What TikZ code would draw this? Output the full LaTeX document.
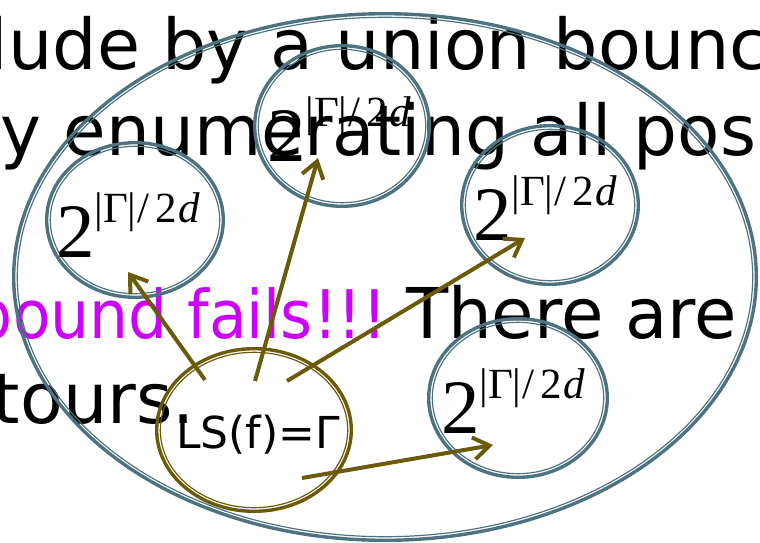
\documentclass[tikz,border=0pt]{standalone}
\usepackage{fontspec}
\setmainfont{DejaVu Sans}
\newfontfamily\tnr{Liberation Serif}
\usepackage{graphicx}
\usetikzlibrary{arrows.meta,shapes.geometric,calc}
\definecolor{steel}{HTML}{4E7380}
\definecolor{lsolive}{HTML}{6B5A08}
\definecolor{mag}{HTML}{CC00FF}
\newcommand\myring[5]{%
  \node[ringout, draw=#5, minimum width={(2*#3-3.4)*1pt}, minimum height={(2*#4-3.4)*1pt}] (#1) at #2 {};
  \node[ringin, draw=#5, minimum width={(2*#3-10.6)*1pt}, minimum height={(2*#4-10.6)*1pt}] (#1-in) at #2 {};
}
\newcommand\gamlbl{{\tnr\fontsize{77}{77}\selectfont 2\raisebox{35pt}{\fontsize{43}{43}\selectfont |Γ|\hspace{1pt}/\hspace{6pt}2\hspace{1pt}\textit{d}}}}
\begin{document}
\begin{tikzpicture}[x=1pt,y=-1pt,
  ringout/.style={ellipse, line width=3.4pt, inner sep=0pt, outer sep=0pt},
  ringin/.style={ellipse, line width=1.2pt, inner sep=0pt, outer sep=0pt},
  txt/.style={anchor=base west, inner sep=0pt, outer sep=0pt},
  lbl/.style={anchor=base west, inner sep=0pt, outer sep=0pt},
  arr/.style={draw=lsolive, line width=4pt, -{Straight Barb[length=16pt,width=22pt]}}]
\useasboundingbox (0,0) rectangle (760,543);
\clip (0,0) rectangle (760,543);
% slide text
\node[txt] (l1) at (-11,70) {\fontsize{70}{70}\selectfont lude by a union bounc};
\node[txt] (l2) at (1,155) {\resizebox{755pt}{\height}{\fontsize{70}{70}\selectfont y enumerating all pos}};
\node[txt, text=mag] (l3a) at (-26,338) {\resizebox{413pt}{\height}{\fontsize{67}{67}\selectfont bound fails!!!}};
\node[txt] (l3b) at (406,338) {\resizebox{331pt}{\height}{\fontsize{70}{70}\selectfont There are}};
\node[txt] (l4) at (-7,423) {\fontsize{70}{70}\selectfont tours.};
% rings
\myring{big}{(385,277)}{373}{265}{steel}
\myring{r1}{(135,220)}{90}{79}{steel}
\myring{r2}{(342,126)}{89}{82}{steel}
\myring{r3}{(550,205)}{90}{81}{steel}
\myring{r4}{(518,398)}{91}{81}{steel}
\myring{ls}{(254,430)}{99}{83}{lsolive}
% labels
\node[lbl] (g1) at ($(r1)+(-79,37)$) {\gamlbl};
\node[lbl] (g2) at ($(r2)+(-75,35)$) {\gamlbl};
\node[lbl] (g3) at ($(r3)+(-77,35)$) {\gamlbl};
\node[lbl] (g4) at ($(r4)+(-77,35)$) {\gamlbl};
\node[txt] (lst) at ($(ls)+(-78,18)$) {\fontsize{44}{44}\selectfont LS(f)=Γ};
% arrows
\coordinate (s1) at ($(ls)+(-49,-50)$);
\coordinate (s2) at ($(ls)+(1,-49)$);
\coordinate (s3) at ($(ls)+(33,-49)$);
\coordinate (s4) at ($(ls)+(48,48)$);
\coordinate (t1) at ($(r1)+(-7,52)$);
\coordinate (t2) at ($(r2)+(-24,32)$);
\coordinate (t3) at ($(r3)+(-25,33)$);
\coordinate (t4) at ($(r4)+(-25,47)$);
\draw[arr] (s1) -- (t1);
\draw[arr] (s2) -- (t2);
\draw[arr] (s3) -- (t3);
\draw[arr] (s4) -- (t4);
\end{tikzpicture}
\end{document}
